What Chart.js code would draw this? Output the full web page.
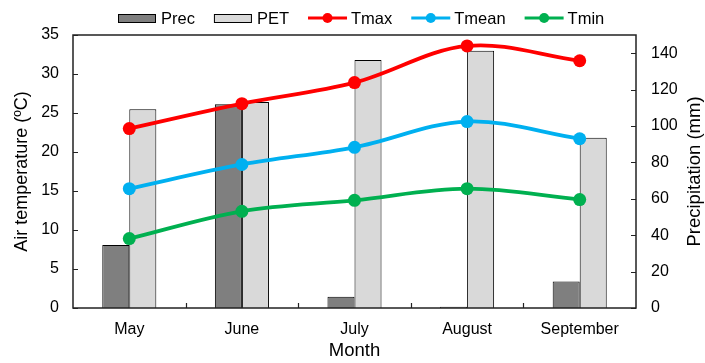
<!DOCTYPE html>
<html>
<head>
<meta charset="utf-8">
<script src="https://cdn.jsdelivr.net/npm/chart.js@4.4.0/dist/chart.umd.min.js"></script>
<style>
  html, body { margin: 0; padding: 0; background: #fff; }
  canvas { display: block; }
</style>
</head>
<body>
<canvas id="climateChart" width="705" height="363"></canvas>
<script>
const months = ['May', 'June', 'July', 'August', 'September'];
// precipitation and potential evapotranspiration, mm (right axis)
const prec = [34.6, 112, 6.2, 0.7, 14.5];
const pet = [109.2, 113.2, 136.3, 141.3, 93.6];
// air temperature, degrees C (left axis)
const tmax = [23.0, 26.2, 28.9, 33.6, 31.7];
const tmean = [15.3, 18.4, 20.6, 23.9, 21.7];
const tmin = [8.9, 12.4, 13.8, 15.3, 13.9];

const FONT = "'Liberation Sans', Arial, sans-serif";

// plot frame, short tick marks pointing into the plot, and the right axis title
const framePlugin = {
  id: 'frame',
  afterDraw(chart) {
    const { ctx, chartArea: a, scales } = chart;
    ctx.save();
    ctx.strokeStyle = '#222';
    ctx.lineWidth = 1.5;
    ctx.strokeRect(a.left, a.top, a.right - a.left, a.bottom - a.top);
    ctx.lineWidth = 1.2;
    ctx.beginPath();
    scales.y.ticks.forEach(t => {
      const py = Math.round(scales.y.getPixelForValue(t.value)) + 0.5;
      ctx.moveTo(a.left, py);
      ctx.lineTo(a.left + 5, py);
    });
    scales.y1.ticks.forEach(t => {
      const py = Math.round(scales.y1.getPixelForValue(t.value)) + 0.5;
      ctx.moveTo(a.right, py);
      ctx.lineTo(a.right - 5, py);
    });
    for (let i = 0; i < months.length - 1; i++) {
      const px = Math.round(scales.x.getPixelForValue(i + 0.5)) + 0.5;
      ctx.moveTo(px, a.bottom);
      ctx.lineTo(px, a.bottom - 5);
    }
    ctx.stroke();

    // right title reads bottom-to-top, same as the left one
    ctx.translate(695, (a.top + a.bottom) / 2);
    ctx.rotate(-Math.PI / 2);
    ctx.fillStyle = '#000';
    ctx.font = '18.5px ' + FONT;
    ctx.textAlign = 'center';
    ctx.textBaseline = 'middle';
    ctx.fillText('Precipitation (mm)', 0, 0);
    ctx.restore();
  }
};

// single-row legend above the plot
const legendPlugin = {
  id: 'topLegend',
  afterDraw(chart) {
    const { ctx } = chart;
    const y = 18;
    let x = 118;
    ctx.save();
    ctx.font = '16.5px ' + FONT;
    ctx.textBaseline = 'middle';
    chart.data.datasets.forEach(ds => {
      if (ds.type === 'bar') {
        ctx.fillStyle = ds.backgroundColor;
        ctx.fillRect(x, y - 4, 38, 8);
        ctx.strokeStyle = '#000';
        ctx.lineWidth = 1;
        ctx.strokeRect(x + 0.5, y - 3.5, 37, 8);
      } else {
        ctx.strokeStyle = ds.borderColor;
        ctx.lineWidth = 3;
        ctx.beginPath();
        ctx.moveTo(x, y);
        ctx.lineTo(x + 39, y);
        ctx.stroke();
        ctx.fillStyle = ds.borderColor;
        ctx.beginPath();
        ctx.arc(x + 19.5, y, 5, 0, Math.PI * 2);
        ctx.fill();
      }
      x += 43;
      ctx.fillStyle = '#000';
      ctx.fillText(ds.label, x, y + 1);
      x += ctx.measureText(ds.label).width + 19;
    });
    ctx.restore();
  }
};

const lineSet = (label, data, color) => ({
  type: 'line',
  label,
  data,
  yAxisID: 'y',
  borderColor: color,
  backgroundColor: color,
  borderWidth: 3.8,
  pointRadius: 6.5,
  pointBackgroundColor: color,
  pointBorderWidth: 0,
  tension: 0.35,
  fill: false,
  order: 1
});

new Chart(document.getElementById('climateChart'), {
  data: {
    labels: months,
    datasets: [
      {
        type: 'bar', label: 'Prec', data: prec, yAxisID: 'y1',
        backgroundColor: '#7f7f7f', borderColor: '#000', borderWidth: 1,
        categoryPercentage: 0.48, barPercentage: 1, order: 2
      },
      {
        type: 'bar', label: 'PET', data: pet, yAxisID: 'y1',
        backgroundColor: '#d9d9d9', borderColor: '#000', borderWidth: 1,
        categoryPercentage: 0.48, barPercentage: 1, order: 2
      },
      lineSet('Tmax', tmax, '#ff0000'),
      lineSet('Tmean', tmean, '#00b0f0'),
      lineSet('Tmin', tmin, '#00b050')
    ]
  },
  options: {
    responsive: false,
    animation: false,
    devicePixelRatio: 1,
    layout: { padding: { top: 35, left: 0, right: 0, bottom: 0 } },
    plugins: { legend: { display: false }, tooltip: { enabled: false } },
    scales: {
      x: {
        grid: { display: false, drawTicks: false },
        border: { display: false },
        ticks: { color: '#000', font: { family: FONT, size: 16 }, padding: 12, maxRotation: 0 },
        title: {
          display: true, text: 'Month', color: '#000',
          font: { family: FONT, size: 18.5, lineHeight: 1 }, padding: { top: 0, bottom: 3 }
        },
        afterFit: s => { s.height = 55; }
      },
      y: {
        position: 'left',
        min: 0, max: 35,
        grid: { display: false, drawTicks: false },
        border: { display: false },
        ticks: { stepSize: 5, color: '#000', font: { family: FONT, size: 16 }, padding: 14 },
        title: {
          display: true, text: 'Air temperature (ºC)', color: '#000',
          font: { family: FONT, size: 18, lineHeight: 1 }, padding: { top: 13, bottom: 0 }
        },
        afterFit: s => { s.width = 73; }
      },
      y1: {
        position: 'right',
        min: 0, max: 150,
        grid: { display: false, drawTicks: false },
        border: { display: false },
        ticks: { stepSize: 20, includeBounds: false, color: '#000', font: { family: FONT, size: 16 }, padding: 15 },
        afterFit: s => { s.width = 69; }
      }
    }
  },
  plugins: [framePlugin, legendPlugin]
});
</script>
</body>
</html>
